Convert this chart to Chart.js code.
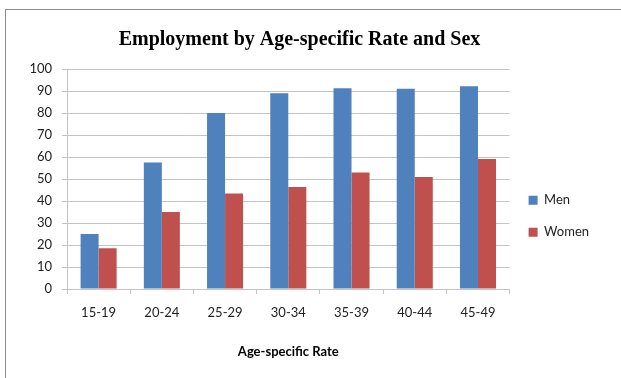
<!DOCTYPE html>
<html>
<head>
<meta charset="utf-8">
<script src="https://cdn.jsdelivr.net/npm/chart.js@4"></script>
<style>
    html, body { margin: 0; padding: 0; background: #fff; }
    #wrap { position: relative; width: 621px; height: 378px; overflow: hidden; }
    #frame {
        position: absolute; left: 5px; top: 9px; width: 700px; height: 500px;
        border: 1px solid #8c8c8c; box-sizing: border-box;
    }
    canvas { position: absolute; left: 0; top: 0; }
</style>
</head>
<body>
<div id="wrap">
    <div id="frame"></div>
    <canvas id="chart" width="621" height="378"></canvas>
</div>
<script>
const ageGroups = ["15-19", "20-24", "25-29", "30-34", "35-39", "40-44", "45-49"];
const menRate = [25, 57.5, 80, 89, 91.3, 91, 92.2];
const womenRate = [18.5, 35, 43.4, 46.4, 53, 50.9, 59.1];
const yTicks = [0, 10, 20, 30, 40, 50, 60, 70, 80, 90, 100];

const gridColor = "#c4c4c4";
const labelFont = { family: "Lato, 'Open Sans', sans-serif", size: 13 };

const ctx = document.getElementById("chart");

new Chart(ctx, {
    type: "bar",
    data: {
        labels: ageGroups,
        datasets: [
            { label: "Men", data: menRate, backgroundColor: "#4f81bd" },
            { label: "Women", data: womenRate, backgroundColor: "#c0504d" }
        ]
    },
    options: {
        responsive: false,
        animation: false,
        layout: { padding: { right: 22, left: 0, top: 0, bottom: 0 } },
        datasets: {
            bar: { categoryPercentage: 0.57, barPercentage: 1 }
        },
        plugins: {
            title: {
                display: true,
                text: "Employment by Age-specific Rate and Sex",
                color: "#000",
                font: { family: "'Liberation Serif', 'Times New Roman', serif", size: 20, weight: "bold" },
                padding: { top: 28, bottom: 17 }
            },
            legend: {
                position: "right",
                fullSize: false,
                title: { display: true, text: " ", padding: { top: 30, bottom: 30 } },
                labels: {
                    boxWidth: 9,
                    boxHeight: 9,
                    padding: 19,
                    color: "#222",
                    font: labelFont
                }
            },
            tooltip: { enabled: false }
        },
        scales: {
            x: {
                grid: { display: true, drawOnChartArea: false, color: gridColor, tickLength: 5 },
                border: { color: gridColor },
                ticks: { color: "#222", font: labelFont, padding: 11 },
                title: {
                    display: true,
                    text: "Age-specific Rate",
                    color: "#000",
                    font: { family: "Lato, 'Open Sans', sans-serif", size: 13, weight: "bold" },
                    padding: { top: 0, bottom: 18 }
                },
                afterFit: s => { s.height = 89; }
            },
            y: {
                min: 0,
                max: 100,
                afterBuildTicks: s => { s.ticks = yTicks.map(v => ({ value: v })); },
                grid: { color: gridColor, tickLength: 5 },
                border: { color: gridColor },
                ticks: { color: "#222", font: labelFont, padding: 10 },
                afterFit: s => { s.width = 67; }
            }
        }
    }
});
</script>
</body>
</html>
